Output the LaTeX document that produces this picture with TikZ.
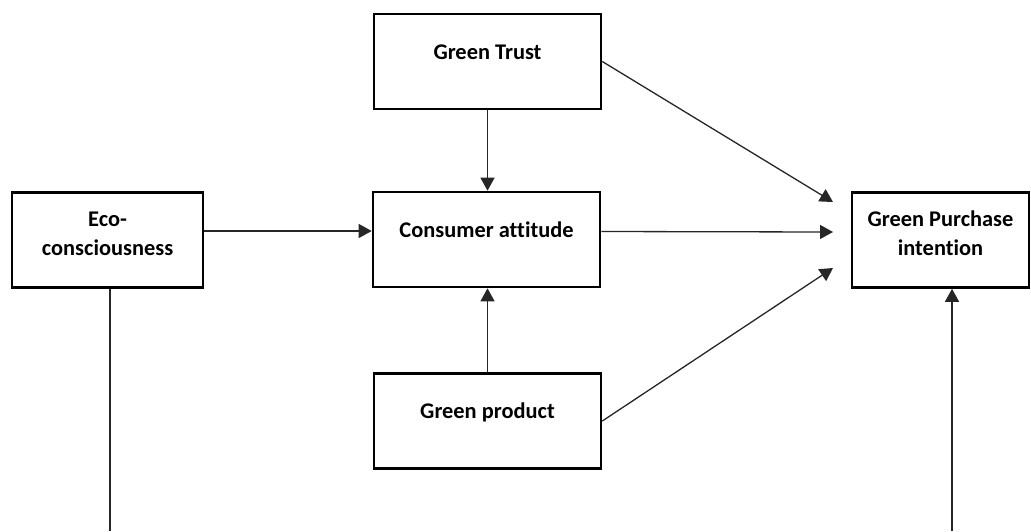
\documentclass[tikz,border=0pt]{standalone}
\usepackage{fontspec}
\setmainfont{Carlito}[Ligatures=NoCommon]
\usetikzlibrary{arrows.meta}

\begin{document}
\begin{tikzpicture}[
	x=0.5pt, y=-0.5pt,
	boxLevel1/.style={rectangle, draw=black, fill=white, line width=1.3pt, inner sep=0pt, minimum width=113.5pt, minimum height=47.5pt, font=\fontsize{11.2}{14.5}\selectfont\bfseries, text height=8pt, text depth=10.5pt},
	boxSide/.style={boxLevel1, align=center, text height=22.5pt, text depth=7.5pt},
	link/.style={line width=0.65pt, draw=black!85, -{Triangle[length=6.5pt, width=7pt]}}
]
\useasboundingbox (0,0) rectangle (1031,531);

\node[boxLevel1] (trust) at (487.5, 61.5) {Green Trust};
\node[boxLevel1] (attitude) at (486.5, 239.5) {Consumer attitude};
\node[boxLevel1] (product) at (487.5, 421) {Green product};
\node[boxSide, minimum width=95.5pt] (eco) at (107.5, 240) {Eco-\\consciousness};
\node[boxSide, minimum width=88.5pt] (purchase) at (940.5, 240) {Green Purchase\\intention};

\coordinate (inTop) at (833, 202);
\coordinate (inMid) at (833, 232);
\coordinate (inLow) at (833, 268);
\coordinate (ecoEnd) at (110, 531);
\coordinate (purchaseFoot) at (952, 531);

\draw[link] (trust.south) to (trust.south |- attitude.north);
\draw[link] (product.north) to (product.north |- attitude.south);
\draw[link] ([yshift=4.5pt]eco.east) to ([yshift=4.5pt]eco.east -| attitude.west);
\draw[link] (trust.east) to (inTop);
\draw[link] ([yshift=4pt]attitude.east) to (inMid);
\draw[link] (product.east) to (inLow);
\draw[line width=0.65pt, draw=black!85] (ecoEnd |- eco.south) to (ecoEnd);
\draw[link] (purchaseFoot) to (purchaseFoot |- purchase.south);
\end{tikzpicture}
\end{document}
